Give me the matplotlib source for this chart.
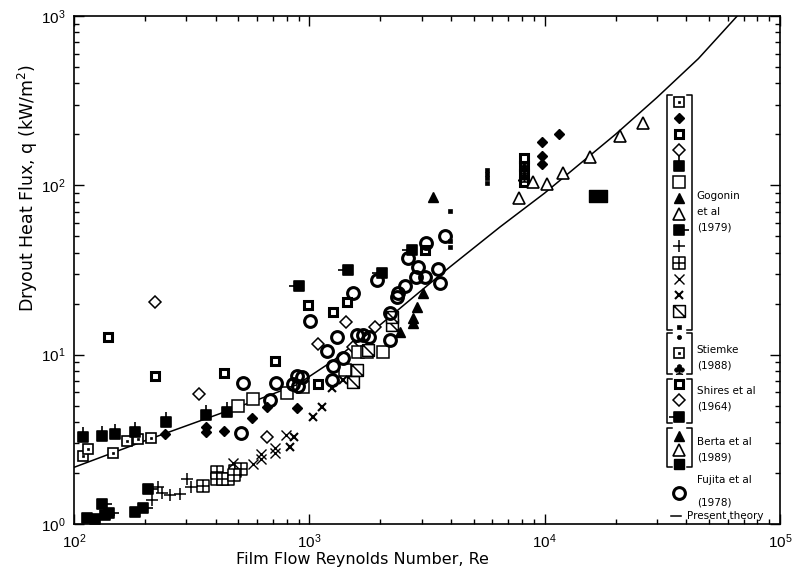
import matplotlib
matplotlib.use('Agg')
import matplotlib.pyplot as plt
from matplotlib.path import Path

plt.rcParams['font.family'] = ['Liberation Sans', 'DejaVu Sans']
plt.rcParams['mathtext.default'] = 'regular'

# present theory curve
theory_re = [100, 200, 300, 460, 600, 887, 1261, 1600, 2000, 3000, 3963, 6465, 10000, 20000, 30000, 45000, 65800]
theory_q = [2.16, 3.1, 3.8, 4.71, 5.4, 6.65, 9.2, 11.9, 15.0, 24.0, 33.0, 56.8, 90, 200, 330, 560, 1000]

# Gogonin et al (1979)
dotsq_re = [109, 115, 146.5, 168, 187, 212]
dotsq_q = [2.52, 2.77, 2.63, 3.09, 3.18, 3.22]
fdiam_re = [244, 364, 364, 434, 571, 661, 887, 9751, 9751, 9751, 11510, 8091]
fdiam_q = [3.40, 3.74, 3.49, 3.54, 4.23, 4.91, 4.84, 180, 149, 134, 201, 108]
thicksq_re = [139.5, 221, 434, 715, 987, 1261, 1445, 1089, 3103, 8176, 8176, 8176, 8176]
thicksq_q = [12.7, 7.48, 7.80, 9.18, 19.7, 17.9, 20.5, 6.71, 41.5, 145, 130, 117, 105]
odiam_re = [221, 340, 1089, 1432, 661, 1903, 1535]
odiam_q = [20.5, 5.86, 11.6, 15.6, 3.26, 14.6, 11.1]
ticktop_re = [109, 131.5, 149, 181.5, 246, 364, 447]
ticktop_q = [3.26, 3.31, 3.40, 3.49, 4.00, 4.40, 4.59]
osq_re = [498, 577, 804, 940, 1611, 2057, 1759, 1418]
osq_q = [4.98, 5.47, 5.94, 6.44, 10.4, 10.4, 10.4, 8.12]
ftri_re = [3357, 2870, 2760, 2760, 2430, 3041]
ftri_q = [85.4, 19.1, 16.5, 15.4, 13.6, 23.1]
otri_re = [7783, 8924, 10230, 11970, 15590, 20900, 26180]
otri_q = [84.3, 105, 102, 118, 147, 196, 234]
tickright_re = [114, 123, 131.5, 135, 141, 181.5, 196, 206]
tickright_q = [1.085, 1.07, 1.31, 1.13, 1.16, 1.18, 1.24, 1.61]
plus_re = [215, 228, 237, 256, 282, 302, 314]
plus_q = [1.39, 1.65, 1.52, 1.48, 1.50, 1.84, 1.65]
crosssq_re = [353, 405, 405, 430, 451, 484, 513, 479]
crosssq_q = [1.68, 2.03, 1.84, 1.84, 1.84, 2.06, 2.11, 1.95]
x1_re = [474, 577, 623, 623, 715, 715, 796]
x1_q = [2.29, 2.26, 2.59, 2.42, 2.81, 2.63, 3.35]
x2_re = [861, 828, 1037, 1133, 1249, 1391]
x2_q = [3.26, 2.85, 4.29, 4.91, 6.36, 7.09]
diagsq_re = [1596, 1535, 1777, 2246, 2246]
diagsq_q = [8.12, 6.90, 10.7, 15.0, 16.7]
smallsq_re = [3963, 3963, 3963, 5692, 5692, 5692, 5692]
smallsq_q = [70.6, 47.0, 43.3, 123, 117, 111, 103]

# Stiemke (1988)
club_re = [8176, 8176]
club_q = [112, 126]

# Shires et al (1964)
tickleft_re = [904, 1461, 2038, 2733]
tickleft_q = [25.5, 31.6, 30.4, 41.5]

# Berta et al (1989)
bigsq_re = [16870]
bigsq_q = [86.5]

# Fujita et al (1978)
circ_re = [513, 523, 681, 722, 887, 931, 896, 853, 1007, 1189, 1312, 1249, 1261, 1391,
           1535, 1596, 1692, 1795, 1941, 2203, 2203, 2360, 2384, 2552, 2626, 2841, 2897,
           3103, 3133, 3524, 3594, 3773]
circ_q = [3.45, 6.81, 5.40, 6.81, 7.48, 7.38, 6.53, 6.71, 15.8, 10.5, 12.7, 7.09, 8.58, 9.56,
          23.1, 13.1, 13.1, 12.7, 27.6, 17.6, 12.2, 21.9, 23.1, 25.5, 37.3, 28.8, 33.0,
          28.8, 45.7, 32.1, 26.5, 50.3]


def square_with(extra):
    verts = [(-1, -1), (1, -1), (1, 1), (-1, 1), (-1, -1)]
    codes = [Path.MOVETO, Path.LINETO, Path.LINETO, Path.LINETO, Path.CLOSEPOLY]
    for a, b in extra:
        verts += [a, b]
        codes += [Path.MOVETO, Path.LINETO]
    return Path(verts, codes)


m_ticktop = square_with([((0, 1), (0, 1.9))])
m_tickright = square_with([((1, 0), (1.9, 0))])
m_tickleft = square_with([((-1.9, 0), (-1, 0))])
m_crosssq = square_with([((0, -1), (0, 1)), ((-1, 0), (1, 0))])
m_diagsq = square_with([((-1, 1), (1, -1))])
m_rect = Path([(-1.5, -1), (1.5, -1), (1.5, 1), (-1.5, 1), (-1.5, -1)],
              [Path.MOVETO, Path.LINETO, Path.LINETO, Path.LINETO, Path.CLOSEPOLY])

K = 'black'
W = 'white'
styles = {
    'dotsq': dict(marker='s', ms=7, mfc=W, mec=K, mew=1.2),
    'dot': dict(marker='s', ms=1.6, mfc=K, mec=K, mew=0.5),
    'fdiam': dict(marker='D', ms=5.5, mfc=K, mec=K, mew=1),
    'thicksq': dict(marker='s', ms=6, mfc=W, mec=K, mew=2.2),
    'odiam': dict(marker='D', ms=6, mfc=W, mec=K, mew=1.1),
    'ticktop': dict(marker=m_ticktop, ms=14, mfc=K, mec=K, mew=1.2),
    'osq': dict(marker='s', ms=8.5, mfc=W, mec=K, mew=1.1),
    'ftri': dict(marker='^', ms=7.5, mfc=K, mec=K, mew=1),
    'otri': dict(marker='^', ms=9, mfc=W, mec=K, mew=1.2),
    'tickright': dict(marker=m_tickright, ms=15, mfc=K, mec=K, mew=1.2),
    'plus': dict(marker='+', ms=8, mec=K, mew=1.1),
    'crosssq': dict(marker=m_crosssq, ms=8, mfc=W, mec=K, mew=1.1),
    'x1': dict(marker='x', ms=6.5, mec=K, mew=1.0),
    'x2': dict(marker='x', ms=6, mec=K, mew=1.5),
    'diagsq': dict(marker=m_diagsq, ms=8.5, mfc=W, mec=K, mew=1.1),
    'smallsq': dict(marker='s', ms=3, mfc=K, mec=K, mew=0.5),
    'sdot': dict(marker='o', ms=3, mfc=K, mec=K, mew=0.5),
    'club': dict(marker=r'$\clubsuit$', ms=7, mfc=K, mec=K, mew=0.5),
    'tickleft': dict(marker=m_tickleft, ms=15, mfc=K, mec=K, mew=1.2),
    'bigsq': dict(marker=m_rect, ms=13, mfc=K, mec=K, mew=1),
    'legsq': dict(marker='s', ms=6.5, mfc=K, mec=K, mew=1),
    'circ': dict(marker='o', ms=8.5, mfc='none', mec=K, mew=2.2),
}

fig = plt.figure(figsize=(7.94, 5.68), dpi=100)
ax = fig.add_axes([0.0932, 0.0775, 0.8892, 0.8944])
ax.set_xscale('log')
ax.set_yscale('log')
ax.set_xlim(1e2, 1e5)
ax.set_ylim(1e0, 1e3)

ax.plot(theory_re, theory_q, color=K, lw=1.1, zorder=1)

series = [
    (dotsq_re, dotsq_q, 'dotsq'), (dotsq_re, dotsq_q, 'dot'),
    (fdiam_re, fdiam_q, 'fdiam'), (thicksq_re, thicksq_q, 'thicksq'),
    (odiam_re, odiam_q, 'odiam'), (ticktop_re, ticktop_q, 'ticktop'),
    (osq_re, osq_q, 'osq'), (ftri_re, ftri_q, 'ftri'), (otri_re, otri_q, 'otri'),
    (tickright_re, tickright_q, 'tickright'), (plus_re, plus_q, 'plus'),
    (crosssq_re, crosssq_q, 'crosssq'), (x1_re, x1_q, 'x1'), (x2_re, x2_q, 'x2'),
    (diagsq_re, diagsq_q, 'diagsq'), (smallsq_re, smallsq_q, 'smallsq'),
    (club_re, club_q, 'club'), (tickleft_re, tickleft_q, 'tickleft'),
    (bigsq_re, bigsq_q, 'bigsq'), (circ_re, circ_q, 'circ'),
]
for xs, ys, key in series:
    ax.plot(xs, ys, ls='none', zorder=2, **styles[key])

# legend column drawn by hand, with brackets
leg_x = 0.857
leg_font = dict(family='DejaVu Sans', fontsize=7.5)
gogonin = ['dotsq', 'fdiam', 'thicksq', 'odiam', 'ticktop', 'osq', 'ftri', 'otri',
           'tickright', 'plus', 'crosssq', 'x1', 'x2', 'diagsq', 'smallsq']
groups = [
    (gogonin, 0.8307, 0.0316, 0.845, 0.381, ['Gogonin', 'et al', '(1979)'], 0.645),
    (['sdot', 'dotsq', 'club'], 0.368, 0.0315, 0.376, 0.295, ['Stiemke', '(1988)'], 0.343),
    (['thicksq', 'odiam', 'tickleft'], 0.2756, 0.0325, 0.2854, 0.1988, ['Shires et al', '(1964)'], 0.262),
    (['ftri', 'otri', 'legsq'], 0.1732, 0.0276, 0.189, 0.1122, ['Berta et al', '(1989)'], 0.161),
]
for keys, y0, dy, top, bot, label, ty in groups:
    for i, key in enumerate(keys):
        y = y0 - i * dy
        ax.plot([leg_x], [y], transform=ax.transAxes, clip_on=False, **styles[key])
        if key == 'dotsq':
            ax.plot([leg_x], [y], transform=ax.transAxes, clip_on=False, **styles['dot'])
    for bx, d in ((0.840, 0.007), (0.875, -0.007)):
        ax.plot([bx + d, bx, bx, bx + d], [top, top, bot, bot], color=K, lw=1.1,
                transform=ax.transAxes, clip_on=False)
    for j, t in enumerate(label):
        ax.text(0.882, ty - j * 0.031, t, transform=ax.transAxes,
                va='center', ha='left', **leg_font)

ax.plot([leg_x], [0.061], transform=ax.transAxes, clip_on=False, **styles['circ'])
ax.text(0.882, 0.087, 'Fujita et al', transform=ax.transAxes, va='center', **leg_font)
ax.text(0.882, 0.043, '(1978)', transform=ax.transAxes, va='center', **leg_font)
ax.plot([0.845, 0.86], [0.016, 0.016], color=K, lw=1.1, transform=ax.transAxes)
ax.text(0.868, 0.016, 'Present theory', transform=ax.transAxes, va='center', **leg_font)

ax.tick_params(which='both', direction='in', top=True, right=True, width=1.0)
ax.tick_params(which='major', length=7, labelsize=11, pad=6)
ax.tick_params(which='minor', length=3.5)
for s in ax.spines.values():
    s.set_linewidth(1.2)

ax.set_xlabel('Film Flow Reynolds Number, Re', fontsize=11.5, family='DejaVu Sans')
ax.xaxis.set_label_coords(0.408, -0.055)
ax.set_ylabel('Dryout Heat Flux, q (kW/m$^2$)', fontsize=12.5, family='DejaVu Sans')
ax.yaxis.set_label_coords(-0.048, 0.661)

fig.savefig('out.png', dpi=100)
